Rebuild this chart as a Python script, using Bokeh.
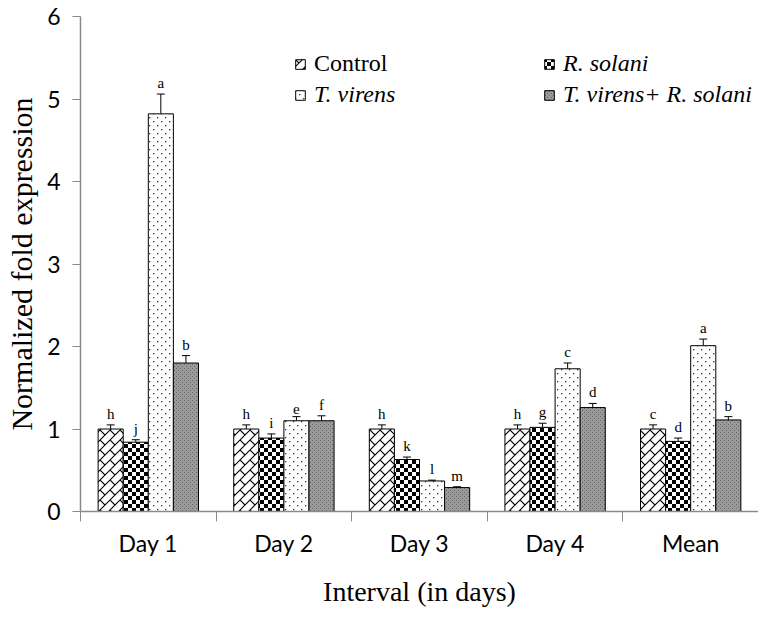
import base64
from bokeh.plotting import figure
from bokeh.models import (ColumnDataSource, Range1d, FixedTicker, Whisker, TeeHead,
                          Legend, LegendItem, ImageURLTexture)
from bokeh.core.properties import value
from bokeh.embed import file_html
from bokeh.resources import INLINE

# ---------------- data ----------------
categories = ["Day 1", "Day 2", "Day 3", "Day 4", "Mean"]
series_names = ["Control", "R. solani", "T. virens", "T. virens+ R. solani"]

control = [1.00, 1.00, 1.00, 1.00, 1.00]
rsolani = [0.84, 0.89, 0.63, 1.02, 0.85]
tvirens = [4.82, 1.10, 0.37, 1.73, 2.01]
combo = [1.80, 1.10, 0.29, 1.26, 1.11]

control_err = [0.05, 0.05, 0.05, 0.05, 0.05]
rsolani_err = [0.03, 0.05, 0.03, 0.05, 0.04]
tvirens_err = [0.24, 0.05, 0.01, 0.07, 0.08]
combo_err = [0.09, 0.06, 0.01, 0.05, 0.04]

control_lbl = ["h", "h", "h", "h", "c"]
rsolani_lbl = ["j", "i", "k", "g", "d"]
tvirens_lbl = ["a", "e", "l", "c", "a"]
combo_lbl = ["b", "f", "m", "d", "b"]

y_ticks = [0, 1, 2, 3, 4, 5, 6]
x_title = "Interval (in days)"
y_title = "Normalized fold expression"

values = [control, rsolani, tvirens, combo]
errors = [control_err, rsolani_err, tvirens_err, combo_err]
letters = [control_lbl, rsolani_lbl, tvirens_lbl, combo_lbl]


# ---------------- textures (small SVG tiles) ----------------
def svg_texture(svg):
    b64 = base64.b64encode(svg.encode()).decode()
    return ImageURLTexture(url="data:image/svg+xml;base64," + b64)


SVG_NS = "xmlns='http://www.w3.org/2000/svg'"
tex_brick = svg_texture(
    f"<svg {SVG_NS} width='10' height='10'>"
    "<rect width='10' height='10' fill='white'/>"
    "<path d='M-1 11 L11 -1 M0 0 L5 5 M9 11 L11 9 M-1 1 L1 -1' stroke='black' stroke-width='1.1' fill='none'/>"
    "</svg>")
tex_check = svg_texture(
    f"<svg {SVG_NS} width='8' height='8'>"
    "<rect width='8' height='8' fill='white'/>"
    "<rect width='4' height='4' fill='black'/>"
    "<rect x='4' y='4' width='4' height='4' fill='black'/></svg>")
tex_dots = svg_texture(
    f"<svg {SVG_NS} width='8' height='8'>"
    "<rect width='8' height='8' fill='white'/>"
    "<rect x='1' y='1' width='1.3' height='1.3' fill='#333333'/>"
    "<rect x='5' y='5' width='1.3' height='1.3' fill='#333333'/></svg>")
tex_grey = svg_texture(
    f"<svg {SVG_NS} width='4' height='4'>"
    "<rect width='4' height='4' fill='#9a9a9a'/>"
    "<rect x='0' y='0' width='1' height='1' fill='#666666'/>"
    "<rect x='2' y='2' width='1' height='1' fill='#666666'/></svg>")

styles = [
    dict(fill_color="white", hatch_pattern=value("brick"), hatch_extra={"brick": tex_brick}),
    dict(fill_color="white", hatch_pattern=value("check"), hatch_extra={"check": tex_check}),
    dict(fill_color="white", hatch_pattern=value("dots"), hatch_extra={"dots": tex_dots}),
    dict(fill_color="#8c8c8c", hatch_pattern=value("grey"), hatch_extra={"grey": tex_grey}),
]

# ---------------- figure ----------------
W, H = 758, 609
p = figure(width=W, height=H, output_backend="svg", toolbar_location=None,
           x_range=Range1d(0, 5), y_range=Range1d(0, 6),
           min_border_left=80, min_border_right=0, min_border_top=16, min_border_bottom=97)
p.outline_line_color = None
p.xgrid.visible = False
p.ygrid.visible = False
p.background_fill_color = "white"
p.border_fill_color = "white"

bw = 0.185
offsets = [-1.5 * bw, -0.5 * bw, 0.5 * bw, 1.5 * bw]
centers = [i + 0.5 for i in range(len(categories))]

legend_pos = [(214, 434), (463, 434), (214, 403), (463, 403)]
legend_style = ["normal", "italic", "italic", "italic"]

for j in range(4):
    xs = [c + offsets[j] for c in centers]
    up = [v + e for v, e in zip(values[j], errors[j])]
    lo = [v - e for v, e in zip(values[j], errors[j])]
    src = ColumnDataSource(dict(x=xs, top=values[j], upper=up, lower=lo, lbl=letters[j]))
    r = p.vbar(x="x", top="top", bottom=0, width=bw, source=src,
               line_color="black", line_width=1, **styles[j])
    w = Whisker(base="x", upper="upper", lower="lower", source=src,
                line_color="black", line_width=1,
                upper_head=TeeHead(size=8, line_color="black", line_width=1),
                lower_head=TeeHead(size=8, line_color="black", line_width=1))
    p.add_layout(w)
    p.text(x="x", y="upper", text="lbl", source=src, text_align="center",
           text_baseline="bottom", y_offset=-3, text_font=value("Liberation Serif"),
           text_font_size="15px", text_color="black")
    leg = Legend(items=[LegendItem(label=value(series_names[j]), renderers=[r])],
                 location=legend_pos[j], orientation="horizontal",
                 padding=0, margin=0, border_line_color=None, background_fill_alpha=0,
                 glyph_width=12, glyph_height=12, label_standoff=8, spacing=0,
                 label_text_font="Liberation Serif", label_text_font_size="24px",
                 label_text_font_style=legend_style[j], label_height=24,
                 label_text_color="black")
    p.add_layout(leg)

axis_color = "#8a8a8a"
# x axis
p.xaxis.ticker = FixedTicker(ticks=centers, minor_ticks=list(range(len(categories) + 1)))
p.xaxis.major_label_overrides = {c: name for c, name in zip(centers, categories)}
p.xaxis.major_tick_out = 0
p.xaxis.major_tick_in = 0
p.xaxis.minor_tick_out = 10
p.xaxis.minor_tick_in = 0
p.xaxis.minor_tick_line_color = axis_color
p.xaxis.axis_line_color = axis_color
p.xaxis.major_label_standoff = 7
p.xaxis.axis_label = x_title
p.xaxis.axis_label_standoff = 16
p.xaxis.axis_label_text_font_size = "28px"

# y axis
p.yaxis.ticker = FixedTicker(ticks=y_ticks, minor_ticks=[])
p.yaxis.major_tick_out = 8
p.yaxis.major_tick_in = 0
p.yaxis.major_tick_line_color = axis_color
p.yaxis.axis_line_color = axis_color
p.yaxis.major_label_standoff = 12
p.yaxis.axis_label = y_title
p.yaxis.axis_label_standoff = 6
p.yaxis.axis_label_text_font_size = "30px"

for ax in (p.xaxis[0], p.yaxis[0]):
    ax.major_label_text_font = "Lato"
    ax.major_label_text_font_size = "23px"
    ax.major_label_text_color = "black"
    ax.axis_label_text_font = "Liberation Serif"
    ax.axis_label_text_font_style = "normal"
    ax.axis_label_text_color = "black"
    ax.axis_line_width = 1.5

open("out.html", "w").write(file_html(p, INLINE))
